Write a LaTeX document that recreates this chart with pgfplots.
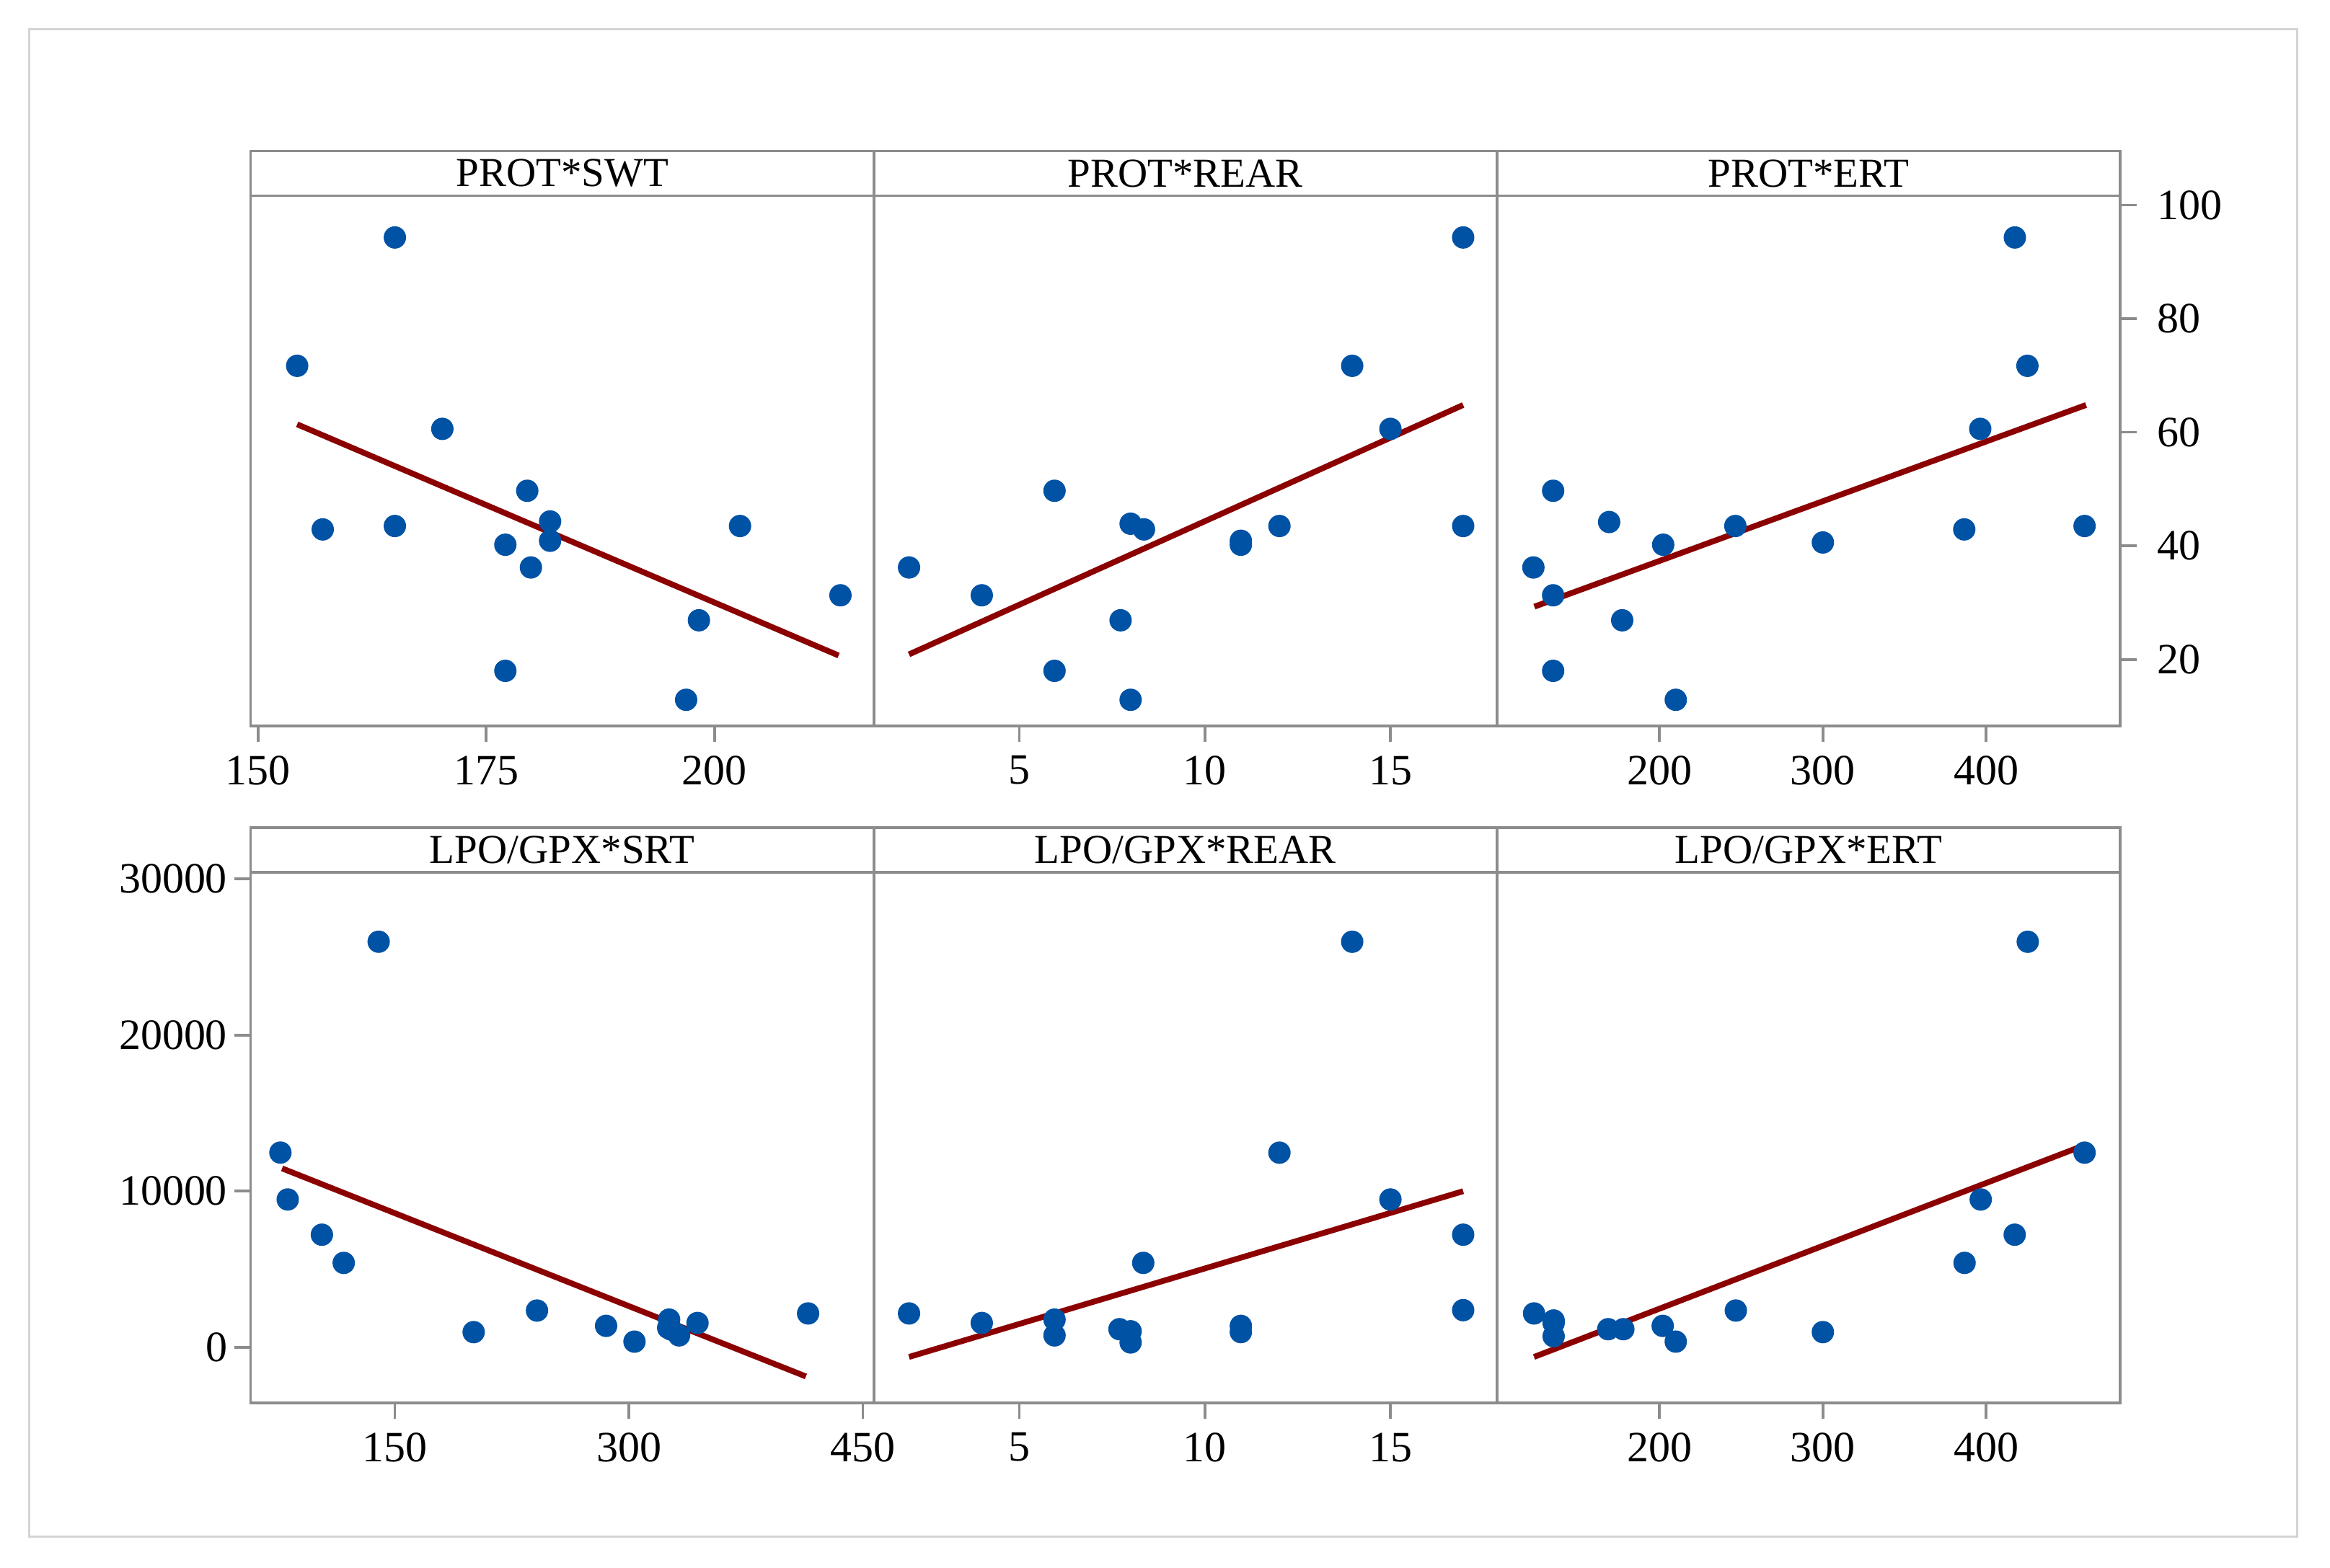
\documentclass[border=0pt]{standalone}
\usepackage{fontspec}
\setmainfont{Liberation Serif}
\usepackage{pgfplots}
\pgfplotsset{compat=1.18}
\definecolor{axgray}{RGB}{140,140,140}
\definecolor{framegray}{RGB}{212,212,212}
\definecolor{dotblue}{RGB}{0,82,165}
\definecolor{linered}{RGB}{139,0,0}
\pgfplotsset{
  panel/.style={
    scale only axis, width=172.83pt, anchor=south west,
    axis line style={draw=axgray, line width=0.75pt},
    every tick/.style={draw=axgray, line width=0.75pt},
    tick align=outside, major tick length=4.5pt,
    xtick pos=bottom, ytick=\empty,
    tick label style={font=\fontsize{12}{12}\selectfont, inner sep=0pt, text=black},
    /pgf/number format/assume math mode=true,
    /pgf/number format/1000 sep={},
    scaled ticks=false,
    xticklabel shift=3.6pt,
    clip=false,
  },
  top/.style={panel, height=147.1pt, ymin=8.3, ymax=101.65},
  bot/.style={panel, height=147.2pt, ymin=-3550, ymax=30415},
  dots/.style={only marks, mark=*, mark size=2.9pt, mark options={draw=dotblue, fill=dotblue}},
  fit/.style={no marks, draw=linered, line width=1.6pt},
}
\newcommand{\strip}[2]{%
  \draw[axgray, line width=0.75pt] (#1.north west) rectangle ([yshift=12.4pt]#1.north east);
  \node[font=\fontsize{11.4}{11.4}\selectfont, inner sep=0pt] at ([yshift=6.2pt]#1.north) {#2};
}
\begin{document}
\begin{tikzpicture}
\path[use as bounding box] (0,0) rectangle (646.2pt,435pt);
\draw[framegray, line width=0.6pt] (8.1pt,8.6pt) rectangle (637pt,426.9pt);

% ---------- top row ----------
\begin{axis}[top, name=p1, at={(69.5pt,233.6pt)}, xmin=149.2, xmax=217.45, xtick={150,175,200}]
\addplot[dots] coordinates {
(154.3,71.7) (157.1,42.9) (165.0,94.3) (165.0,43.5) (170.2,60.6)
(177.1,40.2) (177.1,18.0) (179.5,49.7) (179.9,36.2) (182.0,44.3)
(182.0,40.9) (196.9,12.9) (198.3,26.9) (202.8,43.5) (213.8,31.3)};
\addplot[fit] coordinates {(154.3,61.4) (213.6,20.7)};
\end{axis}

\begin{axis}[top, name=p2, at={(242.33pt,233.6pt)}, xmin=1.08, xmax=17.87, xtick={5,10,15}]
\addplot[dots] coordinates {
(2.03,36.2) (3.99,31.3) (5.95,49.7) (5.95,18.0) (7.73,26.9)
(8.0,43.9) (8.36,42.9) (8.0,12.9) (10.97,40.9) (10.97,40.2)
(12.01,43.5) (13.97,71.7) (15.0,60.6) (16.96,94.3) (16.96,43.5)};
\addplot[fit] coordinates {(2.03,20.9) (16.96,64.8)};
\end{axis}

\begin{axis}[top, name=p3, at={(415.17pt,233.6pt)}, xmin=100.4, xmax=482.1, xtick={200,300,400},
  ytick={20,40,60,80,100}, ytick pos=right, yticklabel pos=right, yticklabel shift=5.6pt]
\addplot[dots] coordinates {
(122.7,36.2) (134.8,49.7) (134.8,31.3) (134.8,18.0) (169.1,44.2)
(177.1,26.9) (202.2,40.2) (209.9,12.9) (246.4,43.5) (300.0,40.6)
(386.6,42.9) (396.4,60.6) (417.6,94.3) (425.3,71.7) (460.3,43.5)};
\addplot[fit] coordinates {(123.3,29.3) (461.2,64.8)};
\end{axis}

% ---------- bottom row ----------
\begin{axis}[bot, name=p4, at={(69.5pt,45.8pt)}, xmin=57.5, xmax=457, xtick={150,300,450},
  ytick={0,10000,20000,30000}, ytick pos=left, yticklabel shift=1.8pt]
\addplot[dots] coordinates {
(76.6,12470) (81.3,9470) (103.2,7215) (117.2,5410) (139.6,25970)
(200.5,980) (241.1,2360) (285.4,1380) (303.6,370) (325.8,1780)
(325.2,1250) (332.2,770) (344.0,1565) (414.9,2175) (327.0,1150)};
\addplot[fit] coordinates {(77.7,11459) (413.5,-1857)};
\end{axis}

\begin{axis}[bot, name=p5, at={(242.33pt,45.8pt)}, xmin=1.08, xmax=17.87, xtick={5,10,15}]
\addplot[dots] coordinates {
(2.03,2175) (3.99,1565) (5.95,1780) (5.95,770) (7.7,1167)
(8.0,1034) (8.0,318) (8.34,5411) (10.97,1379) (10.97,981)
(12.01,12467) (13.97,25968) (15.0,9470) (16.96,7215) (16.96,2387)};
\addplot[fit] coordinates {(2.03,-610) (16.96,10000)};
\end{axis}

\begin{axis}[bot, name=p6, at={(415.17pt,45.8pt)}, xmin=100.4, xmax=482.1, xtick={200,300,400}]
\addplot[dots] coordinates {
(123.1,2175) (135.1,1724) (135.1,1565) (135.1,716) (168.5,1167)
(177.8,1167) (201.9,1379) (209.9,371) (246.7,2361) (300.0,981)
(386.8,5411) (396.7,9470) (417.5,7215) (425.5,25968) (460.3,12467)};
\addplot[fit] coordinates {(123.1,-610) (459.6,12918)};
\end{axis}

\strip{p1}{PROT*SWT}
\strip{p2}{PROT*REAR}
\strip{p3}{PROT*ERT}
\strip{p4}{LPO/GPX*SRT}
\strip{p5}{LPO/GPX*REAR}
\strip{p6}{LPO/GPX*ERT}
\end{tikzpicture}
\end{document}
